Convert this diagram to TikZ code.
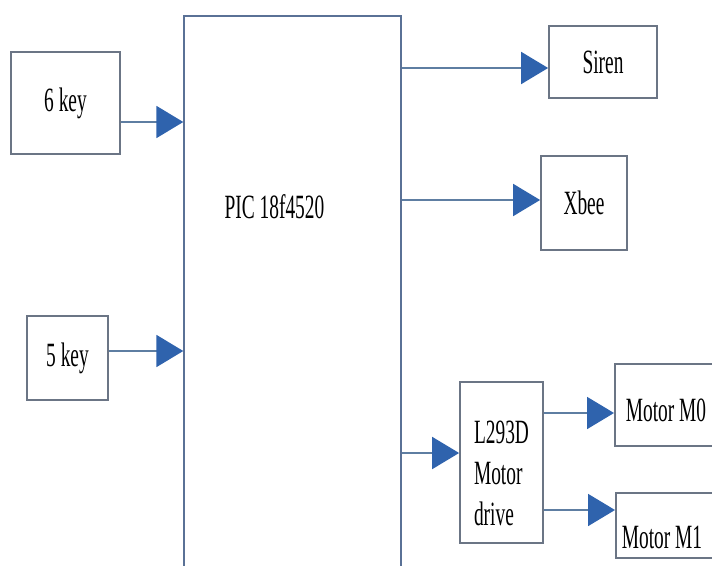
\documentclass[tikz,border=0pt]{standalone}
\usepackage{fontspec}
\usetikzlibrary{arrows.meta}
\newfontfamily\narrowserif{Liberation Serif}[FakeStretch=0.57]
\definecolor{EdgeGray}{HTML}{6B7585}
\definecolor{PicBlue}{HTML}{5A7196}
\definecolor{LinkBlue}{HTML}{5E7EA2}
\definecolor{TipBlue}{HTML}{2F63AD}

\begin{document}
\begin{tikzpicture}[x=1bp, y=-1bp,
        every node/.style={draw=EdgeGray, line width=1.8bp, inner sep=0pt,
            font=\narrowserif\fontsize{34bp}{41bp}\selectfont},
        link/.style={draw=LinkBlue, line width=2bp,
            -{Triangle[length=27bp, width=32bp, color=TipBlue]}}]
        \useasboundingbox (0,0) rectangle (712,566);
        \clip (0,0) rectangle (712,566);

        \node[minimum width=217bp, minimum height=584bp, draw=PicBlue, line width=1.4bp,
            label={[draw=none, xshift=-18bp, yshift=101bp]center:PIC 18f4520}] (pic) at (292.5,308) {};

        \node[minimum width=109bp, minimum height=102bp] (key6) at (65.5,103) {6 key};
        \node[minimum width=81bp, minimum height=84bp] (key5) at (67.5,358) {5 key};
        \draw[link] ([yshift=-19bp]key6.east) -- ([yshift=-19bp]key6.east -| pic.west);
        \draw[link] ([yshift=7bp]key5.east) -- ([yshift=7bp]key5.east -| pic.west);

        \node[minimum width=108bp, minimum height=72bp] (siren) at (603,62) {Siren};
        \node[minimum width=86bp, minimum height=94bp] (xbee) at (584,203) {Xbee};
        \draw[link] ([yshift=-6bp]siren.west -| pic.east) -- ([yshift=-6bp]siren.west);
        \draw[link] ([yshift=3bp]xbee.west -| pic.east) -- ([yshift=3bp]xbee.west);

        \node[minimum width=83bp, minimum height=161bp, align=left] (drive) at (501.5,462.5)
            {\rule{0pt}{44bp}L293D\\Motor\\drive};
        \draw[link] ([yshift=9.5bp]drive.west -| pic.east) -- ([yshift=9.5bp]drive.west);

        \node[anchor=west, inner xsep=11bp, text height=57bp, text depth=25bp]
            (motor0) at (614,405) {\makebox[140bp][l]{Motor M0}};
        \node[anchor=west, inner xsep=6bp, text height=55bp, text depth=10bp]
            (motor1) at (615,525.5) {\makebox[140bp][l]{Motor M1}};
        \draw[link] ([yshift=-8bp]motor0.west -| drive.east) -- ([yshift=-8bp]motor0.west);
        \draw[link] ([yshift=15.5bp]motor1.west -| drive.east) -- ([yshift=15.5bp]motor1.west);
    \end{tikzpicture}
\end{document}
